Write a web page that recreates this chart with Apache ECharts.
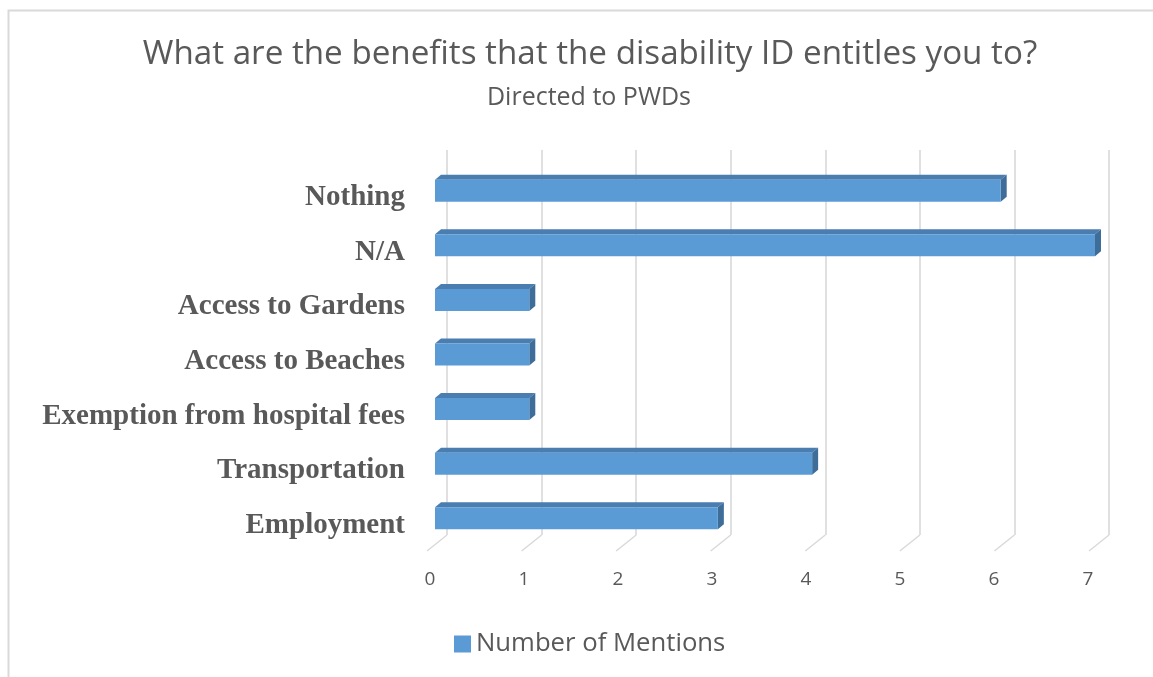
<!DOCTYPE html>
<html>
<head>
<meta charset="utf-8">
<script src="https://cdn.jsdelivr.net/npm/echarts@6/dist/echarts.min.js"></script>
<style>
  html, body { margin: 0; padding: 0; background: #ffffff; }
  #chart { width: 1153px; height: 677px; }
</style>
</head>
<body>
<div id="chart"></div>
<script>
// Answers to "What are the benefits that the disability ID entitles you to?"
const categories = [
  'Nothing',
  'N/A',
  'Access to Gardens',
  'Access to Beaches',
  'Exemption from hospital fees',
  'Transportation',
  'Employment'
];
const mentions = [6, 7, 1, 1, 1, 4, 3];
const xTicks = [0, 1, 2, 3, 4, 5, 6, 7];
const seriesName = 'Number of Mentions';

const TEXT = '#595959';
const FRONT = '#5B9BD5';
const TOP = '#4A7DB0';
const SIDE = '#3E6D99';
const GRID = '#D9D9D9';

// pseudo-3D bar: front face plus a top and a right face
function renderBar(params, api) {
  const cat = api.value(0);
  const val = api.value(1);
  const start = api.coord([0, cat]);
  const end = api.coord([val, cat]);
  const h = 22, dx = 6, dy = 5;
  const x0 = start[0], x1 = end[0];
  const yT = start[1] - h / 2, yB = start[1] + h / 2;
  return {
    type: 'group',
    children: [
      { type: 'polygon', shape: { points: [[x0, yT], [x0 + dx, yT - dy], [x1 + dx, yT - dy], [x1, yT]] },
        style: { fill: TOP } },
      { type: 'polygon', shape: { points: [[x1, yT], [x1 + dx, yT - dy], [x1 + dx, yB - dy], [x1, yB]] },
        style: { fill: SIDE } },
      { type: 'rect', shape: { x: x0, y: yT, width: x1 - x0, height: h },
        style: { fill: FRONT } }
    ]
  };
}

// slanted floor lines joining the back wall to the value labels
function renderFloor(params, api) {
  const p = api.coord([api.value(0), 0]);
  return {
    type: 'line',
    shape: { x1: p[0], y1: p[1], x2: p[0] - 20, y2: p[1] + 16 },
    style: { stroke: GRID, lineWidth: 1.5 }
  };
}

const hidden = { axisLine: { show: false }, axisTick: { show: false }, axisLabel: { show: false }, splitLine: { show: false } };

const chart = echarts.init(document.getElementById('chart'), null, { renderer: 'canvas' });
chart.setOption({
  animation: false,
  backgroundColor: '#ffffff',
  title: [
    {
      text: 'What are the benefits that the disability ID entitles you to?',
      left: 585, top: 33, textAlign: 'center',
      textStyle: { fontFamily: 'Open Sans', fontWeight: 'normal', fontSize: 33.2, color: TEXT }
    },
    {
      text: 'Directed to PWDs',
      left: 584, top: 80, textAlign: 'center',
      textStyle: { fontFamily: 'Open Sans', fontWeight: 'normal', fontSize: 25, color: TEXT }
    }
  ],
  graphic: [
    { type: 'rect', shape: { x: 8.5, y: 10.5, width: 1200, height: 700 },
      style: { fill: null, stroke: GRID, lineWidth: 2 }, silent: true, z: -1 }
  ],
  legend: {
    data: [seriesName],
    left: 449, top: 626,
    icon: 'rect', itemWidth: 17, itemHeight: 17, itemGap: 10,
    textStyle: { fontFamily: 'Open Sans', fontSize: 25.7, color: TEXT }
  },
  grid: [
    // front plane of the bars
    { left: 435, right: 58, top: 163.5, bottom: 131.5 },
    // back wall carrying the vertical gridlines
    { left: 447, right: 44, top: 150, bottom: 142 },
    // floor front edge carrying the value labels
    { left: 430, right: 65, top: 150, bottom: 127 },
    // category label band, set slightly below the bar fronts
    { left: 435, right: 58, top: 170.5, bottom: 124.5 }
  ],
  xAxis: [
    Object.assign({ gridIndex: 0, type: 'value', min: 0, max: 7, interval: 1 }, hidden),
    { gridIndex: 1, type: 'value', min: 0, max: 7, interval: 1,
      axisLine: { show: false }, axisTick: { show: false }, axisLabel: { show: false },
      splitLine: { show: true, lineStyle: { color: GRID, width: 1.6 } } },
    { gridIndex: 2, type: 'value', min: 0, max: 7, interval: 1,
      axisLine: { show: false }, axisTick: { show: false }, splitLine: { show: false },
      axisLabel: { margin: 20, fontFamily: 'Open Sans', fontSize: 19, color: TEXT } },
    Object.assign({ gridIndex: 3, type: 'value', min: 0, max: 7, interval: 1 }, hidden)
  ],
  yAxis: [
    Object.assign({ gridIndex: 0, type: 'category', data: categories, inverse: true }, hidden),
    { gridIndex: 1, type: 'value', min: 0, max: 1, show: false },
    { gridIndex: 2, type: 'value', min: 0, max: 1, show: false },
    { gridIndex: 3, type: 'category', data: categories, inverse: true,
      axisLine: { show: false }, axisTick: { show: false }, splitLine: { show: false },
      axisLabel: { margin: 30, fontFamily: 'Liberation Serif', fontWeight: 'bold',
        fontSize: 29, color: TEXT } }
  ],
  series: [
    {
      type: 'custom', name: 'floor', xAxisIndex: 1, yAxisIndex: 1,
      data: xTicks.map(v => [v]), renderItem: renderFloor, silent: true, z: 1
    },
    {
      type: 'custom', name: seriesName, xAxisIndex: 0, yAxisIndex: 0,
      itemStyle: { color: FRONT },
      encode: { x: 1, y: 0 },
      data: mentions.map((v, i) => [i, v]),
      renderItem: renderBar, z: 3
    }
  ]
});
</script>
</body>
</html>
